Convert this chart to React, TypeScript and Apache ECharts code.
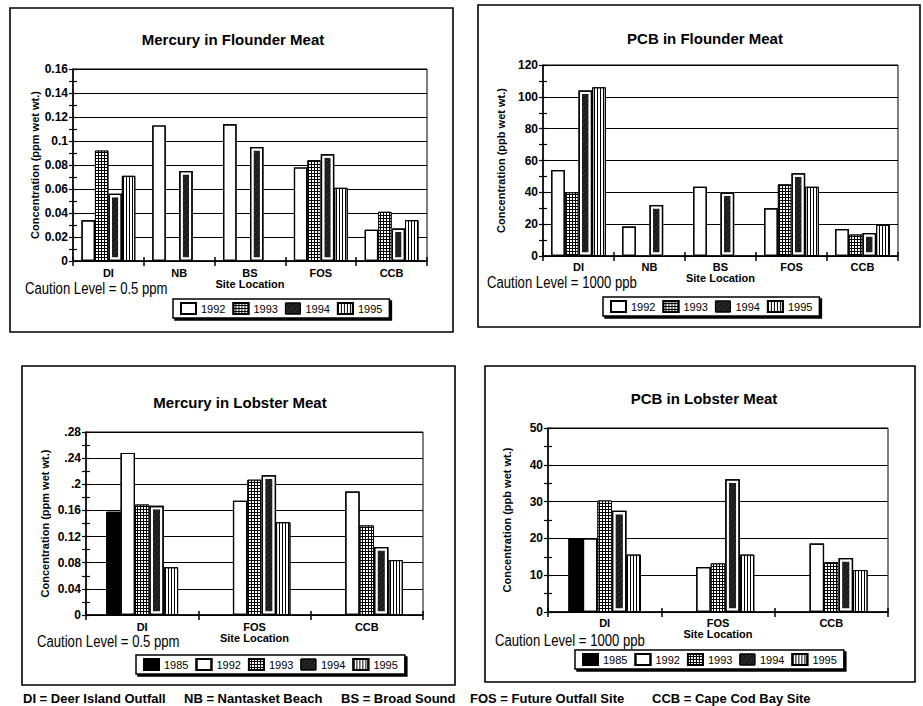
import { useEffect, useRef } from 'react';
import * as echarts from 'echarts';

// ---------- data ----------
const flounderSites = ['DI', 'NB', 'BS', 'FOS', 'CCB'];
const lobsterSites = ['DI', 'FOS', 'CCB'];
const flounderYears = ['1992', '1993', '1994', '1995'];
const lobsterYears = ['1985', '1992', '1993', '1994', '1995'];

const hgFlounder1992 = [0.034, 0.113, 0.114, 0.078, 0.026];
const hgFlounder1993 = [0.092, null, null, 0.084, 0.041];
const hgFlounder1994 = [0.056, 0.075, 0.095, 0.089, 0.027];
const hgFlounder1995 = [0.071, null, null, 0.061, 0.034];

const pcbFlounder1992 = [54, 18.5, 43.5, 30, 17];
const pcbFlounder1993 = [40, null, null, 45, 13.5];
const pcbFlounder1994 = [104, 32, 40, 52, 14.5];
const pcbFlounder1995 = [106, null, null, 43.5, 19.5];

const hgLobster1985 = [0.158, null, null];
const hgLobster1992 = [0.248, 0.175, 0.189];
const hgLobster1993 = [0.169, 0.207, 0.137];
const hgLobster1994 = [0.167, 0.214, 0.104];
const hgLobster1995 = [0.073, 0.142, 0.084];

const pcbLobster1985 = [20, null, null];
const pcbLobster1992 = [20, 12.2, 18.6];
const pcbLobster1993 = [30.3, 13.2, 13.5];
const pcbLobster1994 = [27.5, 36.1, 14.7];
const pcbLobster1995 = [15.6, 15.6, 11.4];

const hgLobsterTickLabels = ['0', '0.04', '0.08', '0.12', '0.16', '.2', '.24', '.28'];

const titles = ['Mercury in Flounder Meat', 'PCB in Flounder Meat', 'Mercury in Lobster Meat', 'PCB in Lobster Meat'];
const yNames = ['Concentration (ppm wet wt.)', 'Concentration (ppb wet wt.)', 'Concentration (ppm wet wt.)', 'Concentration (ppb wet wt.)'];
const cautions = ['Caution Level = 0.5 ppm', 'Caution Level = 1000 ppb', 'Caution Level = 0.5 ppm', 'Caution Level = 1000 ppb'];
const footnotes = ['DI = Deer Island Outfall', 'NB = Nantasket Beach', 'BS = Broad Sound', 'FOS = Future Outfall Site', 'CCB = Cape Cod Bay Site'];

// ---------- styling ----------
const FONT = "'Liberation Sans', Arial, Helvetica, sans-serif";
const NONE_DECAL = { symbol: 'rect', color: 'rgba(0,0,0,0)' };

function styleFor(year: string): any {
  switch (year) {
    case '1985':
      return { color: '#000', borderColor: '#000', borderWidth: 1, decal: NONE_DECAL };
    case '1992':
      return { color: '#fff', borderColor: '#000', borderWidth: 1.2, decal: NONE_DECAL };
    case '1993':
      return {
        color: '#000', borderColor: '#000', borderWidth: 1,
        decal: { symbol: 'rect', symbolSize: 1, symbolKeepAspect: false, color: '#fff', dashArrayX: [2, 1], dashArrayY: [2, 1] },
      };
    case '1994':
      return {
        color: '#1c1c1c', borderColor: '#fff', borderWidth: 3.5,
        decal: { symbol: 'rect', symbolSize: 1, symbolKeepAspect: false, color: 'rgba(255,255,255,0.22)', dashArrayX: [1, 2], dashArrayY: [1, 3] },
      };
    default:
      return {
        color: '#fff', borderColor: '#000', borderWidth: 1,
        decal: { symbol: 'rect', symbolSize: 1, symbolKeepAspect: false, color: '#000', dashArrayX: [1, 2], dashArrayY: [4, 0] },
      };
  }
}

interface Panel {
  sites: string[];
  years: string[];
  values: (number | null)[][];
  yMax: number;
  yInterval: number;
  yLabels?: string[];
  grid: [number, number, number, number];
  frame: [number, number, number, number];
  titlePos: [number, number];
  cautionPos: [number, number];
  legendPos: [number, number];
  catGap: string;
  nameGapY: number;
  nameGapX: number;
  labelMargin: number;
}

const panels: Panel[] = [
  {
    sites: flounderSites, years: flounderYears,
    values: [hgFlounder1992, hgFlounder1993, hgFlounder1994, hgFlounder1995],
    yMax: 0.16, yInterval: 0.02,
    grid: [73, 69, 354, 192], frame: [10, 8, 443, 324],
    titlePos: [233, 39], cautionPos: [25, 289], legendPos: [173, 299],
    catGap: '24%', nameGapY: 31, nameGapX: 16, labelMargin: 6,
  },
  {
    sites: flounderSites, years: flounderYears,
    values: [pcbFlounder1992, pcbFlounder1993, pcbFlounder1994, pcbFlounder1995],
    yMax: 120, yInterval: 20,
    grid: [543, 65, 355, 191], frame: [478, 5, 442, 322],
    titlePos: [705, 38], cautionPos: [487, 283], legendPos: [603, 297],
    catGap: '23%', nameGapY: 37, nameGapX: 15, labelMargin: 5,
  },
  {
    sites: lobsterSites, years: lobsterYears,
    values: [hgLobster1985, hgLobster1992, hgLobster1993, hgLobster1994, hgLobster1995],
    yMax: 0.28, yInterval: 0.04, yLabels: hgLobsterTickLabels,
    grid: [86, 432, 337, 183], frame: [22, 366, 433, 319],
    titlePos: [240, 402], cautionPos: [37, 642], legendPos: [136, 655],
    catGap: '36%', nameGapY: 36, nameGapX: 16, labelMargin: 6,
  },
  {
    sites: lobsterSites, years: lobsterYears,
    values: [pcbLobster1985, pcbLobster1992, pcbLobster1993, pcbLobster1994, pcbLobster1995],
    yMax: 50, yInterval: 10,
    grid: [548, 428, 340, 184], frame: [485, 366, 430, 316],
    titlePos: [704, 398], cautionPos: [495, 641], legendPos: [575, 650],
    catGap: '36%', nameGapY: 36, nameGapX: 15, labelMargin: 5,
  },
];

function buildOption(): any {
  const grid: any[] = [];
  const xAxis: any[] = [];
  const yAxis: any[] = [];
  const series: any[] = [];
  const legend: any[] = [];
  const graphic: any[] = [];

  panels.forEach((p, i) => {
    grid.push({
      left: p.grid[0], top: p.grid[1], width: p.grid[2], height: p.grid[3],
      show: true, borderColor: '#000', borderWidth: 1, containLabel: false,
    });
    const xMain = xAxis.length;
    xAxis.push({
      type: 'category', gridIndex: i, data: p.sites, position: 'bottom',
      axisLine: { lineStyle: { color: '#000', width: 1.5 } },
      axisTick: { show: true, length: 5, lineStyle: { color: '#000', width: 1.5 } },
      axisLabel: { color: '#000', fontWeight: 'bold', fontSize: 11, fontFamily: FONT, margin: p.labelMargin },
      splitLine: { show: false },
      name: 'Site Location', nameLocation: 'middle', nameGap: p.nameGapX,
      nameTextStyle: { color: '#000', fontWeight: 'bold', fontSize: 11, fontFamily: FONT },
    });
    const xOver = xAxis.length;
    xAxis.push({
      type: 'category', gridIndex: i, data: p.sites, position: 'bottom',
      axisLine: { show: false },
      axisTick: { show: true, inside: true, length: 4, lineStyle: { color: '#000', width: 1.5 } },
      axisLabel: { show: false }, splitLine: { show: false },
    });
    const yMain = yAxis.length;
    const labels = p.yLabels;
    yAxis.push({
      type: 'value', gridIndex: i, min: 0, max: p.yMax, interval: p.yInterval, position: 'left',
      axisLine: { show: true, lineStyle: { color: '#000', width: 1.5 } },
      axisTick: { show: true, length: 4, lineStyle: { color: '#000', width: 1.2 } },
      minorTick: { show: true, splitNumber: 2, length: 4, lineStyle: { color: '#000', width: 1.2 } },
      splitLine: { show: true, lineStyle: { color: '#000', width: 1 } },
      axisLabel: {
        color: '#000', fontWeight: 'bold', fontSize: 12, fontFamily: FONT, margin: 5,
        formatter: labels ? (_v: number, idx: number) => labels[idx] ?? '' : undefined,
      },
      name: yNames[i], nameLocation: 'middle', nameGap: p.nameGapY,
      nameTextStyle: { color: '#000', fontWeight: 'bold', fontSize: 11, fontFamily: FONT },
    });
    yAxis.push({
      type: 'value', gridIndex: i, min: 0, max: p.yMax, interval: p.yInterval, position: 'left',
      axisLine: { show: false },
      axisTick: { show: true, inside: true, length: 4, lineStyle: { color: '#000', width: 1.2 } },
      minorTick: { show: true, splitNumber: 2, length: 4, lineStyle: { color: '#000', width: 1.2 } },
      splitLine: { show: false }, axisLabel: { show: false },
    });

    p.years.forEach((yr, k) => {
      series.push({
        type: 'bar', name: yr, xAxisIndex: xMain, yAxisIndex: yMain, data: p.values[k],
        barGap: '0%', barCategoryGap: p.catGap, itemStyle: styleFor(yr), silent: true,
      });
    });
    // outline layer for the 1994 bars (same layout on an overlay category axis)
    p.years.forEach((yr, k) => {
      const is94 = yr === '1994';
      series.push({
        type: 'bar', name: 'outline ' + yr, xAxisIndex: xOver, yAxisIndex: yMain,
        data: is94 ? p.values[k] : p.values[k].map(() => null),
        barGap: '0%', barCategoryGap: p.catGap, silent: true,
        itemStyle: is94
          ? { color: 'rgba(0,0,0,0)', borderColor: '#000', borderWidth: 1.3, decal: NONE_DECAL }
          : { color: 'rgba(0,0,0,0)', borderWidth: 0, decal: NONE_DECAL },
      });
    });

    legend.push({
      left: p.legendPos[0], top: p.legendPos[1], orient: 'horizontal',
      data: p.years.map((y) => (y === '1994' ? { name: y, itemStyle: { borderColor: '#000', borderWidth: 1 } } : y)),
      icon: 'rect', itemWidth: 15, itemHeight: 11, itemGap: 7, padding: [3, 7],
      borderColor: '#000', borderWidth: 1.5, backgroundColor: '#fff',
      shadowColor: '#000', shadowOffsetX: 2, shadowOffsetY: 2, shadowBlur: 0,
      textStyle: { fontSize: 11, color: '#000', fontFamily: FONT },
      selectedMode: false,
    });

    graphic.push({
      type: 'rect', silent: true,
      shape: { x: p.frame[0], y: p.frame[1], width: p.frame[2], height: p.frame[3] },
      style: { fill: 'none', stroke: '#000', lineWidth: 1.6 },
    });
    graphic.push({
      type: 'text', silent: true, x: p.titlePos[0], y: p.titlePos[1],
      style: { text: titles[i], fill: '#000', fontSize: 15, fontWeight: 'bold', fontFamily: FONT, align: 'center', verticalAlign: 'middle' },
    });
    graphic.push({
      type: 'text', silent: true, x: p.cautionPos[0], y: p.cautionPos[1], scaleX: 0.82,
      style: { text: cautions[i], fill: '#000', fontSize: 16, fontFamily: FONT, align: 'left', verticalAlign: 'middle' },
    });
  });

  const footX = [23, 184, 341, 470, 652];
  footnotes.forEach((t, i) => {
    graphic.push({
      type: 'text', silent: true, x: footX[i], y: 698,
      style: { text: t, fill: '#000', fontSize: 13, fontWeight: 'bold', fontFamily: FONT, align: 'left', verticalAlign: 'middle' },
    });
  });

  return {
    animation: false,
    backgroundColor: '#fff',
    aria: { enabled: true, decal: { show: true } },
    grid, xAxis, yAxis, series, legend, graphic,
  };
}

export default function App() {
  const ref = useRef<HTMLDivElement>(null);
  useEffect(() => {
    document.body.style.margin = '0';
    const chart = echarts.init(ref.current!, undefined, { renderer: 'svg', width: 923, height: 706 });
    chart.setOption(buildOption());
    return () => chart.dispose();
  }, []);
  return <div ref={ref} style={{ width: 923, height: 706 }} />;
}
